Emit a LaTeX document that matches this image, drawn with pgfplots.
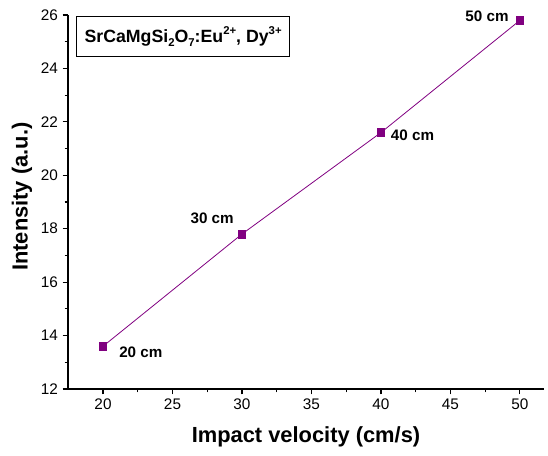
\documentclass[border=0pt]{standalone}
\usepackage{pgfplots}
\pgfplotsset{compat=1.18}
\usepackage{fontspec}
\setmainfont{Liberation Sans}
\definecolor{pur}{HTML}{800080}
\newcommand{\sub}[1]{\raisebox{-0.45ex}{\fontsize{8.5}{9}\selectfont #1}}
\newcommand{\sups}[1]{\raisebox{0.85ex}{\fontsize{8.5}{9}\selectfont #1}}
\begin{document}
\begin{tikzpicture}
\begin{axis}[
  name=ax,
  scale only axis,
  width=357pt, height=280.5pt,
  xmin=17.48, xmax=51.73, ymin=12, ymax=26,
  axis x line*=bottom, axis y line*=left,
  axis line style={-, line width=0.8pt},
  xtick={20,25,...,50}, ytick={12,14,...,26},
  minor x tick num=1, minor y tick num=1,
  tick align=outside,
  major tick length=4pt, minor tick length=2.5pt,
  tick style={black, line width=0.8pt},
  /pgf/number format/assume math mode=true,
  ticklabel style={font=\fontsize{11.5}{13}\selectfont},
  xlabel={\bfseries Impact velocity (cm/s)},
  ylabel={\bfseries Intensity (a.u.)},
  label style={font=\fontsize{16.4}{18}\selectfont},
  xlabel style={at={(axis description cs:0.5,0)}, anchor=center, yshift=-36pt},
  ylabel style={at={(axis description cs:0,0.5)}, anchor=center, yshift=34.5pt, xshift=4pt},
  clip=false,
]
\addplot[pur, line width=0.6pt, mark=square*, mark size=2.9pt, mark options={fill=pur, draw=pur}]
  coordinates {(20,13.6) (30,17.8) (40,21.6) (50,25.8)};
\node[font=\bfseries\fontsize{11.4}{13}\selectfont, anchor=west, inner sep=0pt] at (axis cs:21.15,13.39) {20 cm};
\node[font=\bfseries\fontsize{11.4}{13}\selectfont, anchor=east, inner sep=0pt] at (axis cs:29.42,18.4) {30 cm};
\node[font=\bfseries\fontsize{11.4}{13}\selectfont, anchor=west, inner sep=0pt] at (axis cs:40.7,21.48) {40 cm};
\node[font=\bfseries\fontsize{11.4}{13}\selectfont, anchor=east, inner sep=0pt] at (axis cs:49.2,25.97) {50 cm};
\node[draw, line width=0.6pt, anchor=north west, inner sep=0pt, font=\bfseries\fontsize{13.3}{15}\selectfont, minimum width=160pt, minimum height=30pt]
  at (axis cs:18.06,25.96) {SrCaMgSi\sub{2}O\sub{7}:Eu\sups{2+}, Dy\sups{3+}};
\end{axis}
\path (ax.south west) ++(-51pt,-50.25pt) coordinate (bl);
\path (ax.north east) ++(3pt,11.25pt) coordinate (tr);
\path (bl) rectangle (tr);
\end{tikzpicture}
\end{document}
